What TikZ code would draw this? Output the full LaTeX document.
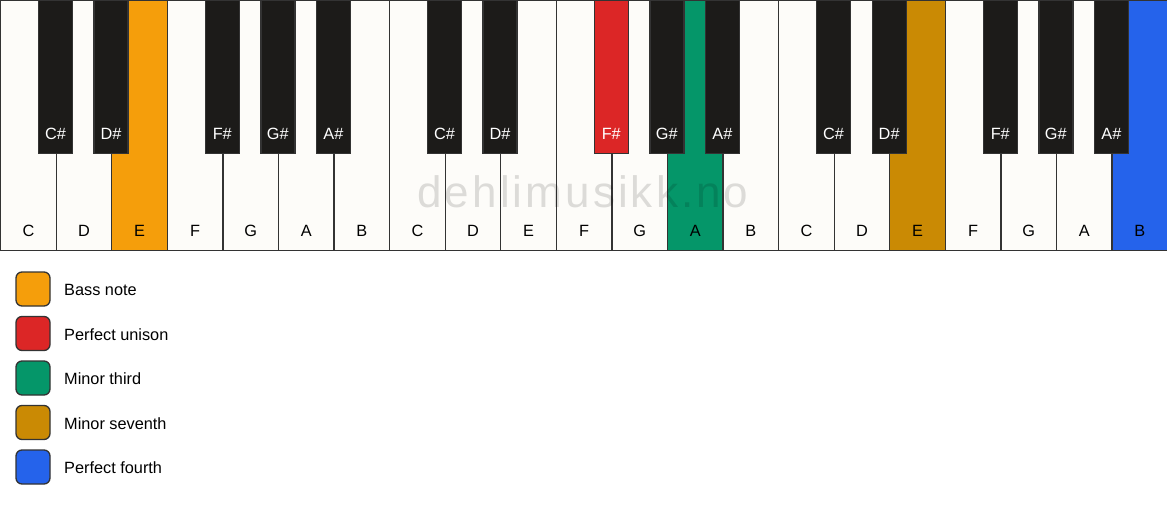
\documentclass[tikz,border=0pt]{standalone}
\usepackage{fontspec}
\setmainfont{Liberation Sans}
\newfontfamily\wmfont[LetterSpace=7]{Liberation Sans}
\usepackage{tikz}
\definecolor{ivory}{HTML}{FDFCF9}
\definecolor{ebony}{HTML}{1C1B19}
\definecolor{keyline}{HTML}{333333}
\definecolor{bass}{HTML}{F59E0B}
\definecolor{unison}{HTML}{DC2626}
\definecolor{third}{HTML}{059669}
\definecolor{seventh}{HTML}{CA8A04}
\definecolor{fourth}{HTML}{2563EB}
\tikzstyle{wk}=[shape=rectangle,draw=keyline,line width=1.3pt,fill=ivory,anchor=north west,inner sep=0pt,minimum width=55.571pt,minimum height=250pt,text height=236pt,text depth=14pt,font=\fontsize{16.3}{19}\selectfont]
\tikzstyle{bk}=[shape=rectangle,draw=keyline,line width=1.3pt,fill=ebony,text=white,anchor=north,inner sep=0pt,minimum width=34pt,minimum height=153pt,text height=139pt,text depth=14pt,font=\fontsize{16.3}{19}\selectfont]
\tikzstyle{sw}=[shape=rectangle,rounded corners=6pt,draw=keyline,line width=1.3pt,minimum size=34pt,inner sep=0pt]
\tikzstyle{lt}=[anchor=base west,inner sep=0pt,font=\fontsize{16.3}{19}\selectfont]
\tikzstyle{wmark}=[anchor=base,inner sep=0pt,text=black,text opacity=0.13,font=\wmfont\fontsize{44}{50}\selectfont]

\begin{document}
\begin{tikzpicture}[x=1pt,y=-1pt]
            \useasboundingbox (0,0) rectangle (1167,506);
            % white keys
            \node[wk] (C1) at (0, 0) {C};
            \node[wk] (D1) at (55.571, 0) {D};
            \node[wk, fill=bass] (E1) at (111.143, 0) {E};
            \node[wk] (F1) at (166.714, 0) {F};
            \node[wk] (G1) at (222.286, 0) {G};
            \node[wk] (A1) at (277.857, 0) {A};
            \node[wk] (B1) at (333.429, 0) {B};
            \node[wk] (C2) at (389, 0) {C};
            \node[wk] (D2) at (444.571, 0) {D};
            \node[wk] (E2) at (500.143, 0) {E};
            \node[wk] (F2) at (555.714, 0) {F};
            \node[wk] (G2) at (611.286, 0) {G};
            \node[wk, fill=third] (A2) at (666.857, 0) {A};
            \node[wk] (B2) at (722.429, 0) {B};
            \node[wk] (C3) at (778, 0) {C};
            \node[wk] (D3) at (833.571, 0) {D};
            \node[wk, fill=seventh] (E3) at (889.143, 0) {E};
            \node[wk] (F3) at (944.714, 0) {F};
            \node[wk] (G3) at (1000.286, 0) {G};
            \node[wk] (A3) at (1055.857, 0) {A};
            \node[wk, fill=fourth] (B3) at (1111.429, 0) {B};
            % watermark
            \node[wmark] (wm) at (583, 207) {dehlimusikk.no};
            % black keys
            \node[bk] (Cs1) at (55.571, 0) {C\#};
            \node[bk] (Ds1) at (111.143, 0) {D\#};
            \node[bk] (Fs1) at (222.286, 0) {F\#};
            \node[bk] (Gs1) at (277.857, 0) {G\#};
            \node[bk] (As1) at (333.429, 0) {A\#};
            \node[bk] (Cs2) at (444.571, 0) {C\#};
            \node[bk] (Ds2) at (500.143, 0) {D\#};
            \node[bk, fill=unison] (Fs2) at (611.286, 0) {F\#};
            \node[bk] (Gs2) at (666.857, 0) {G\#};
            \node[bk] (As2) at (722.429, 0) {A\#};
            \node[bk] (Cs3) at (833.571, 0) {C\#};
            \node[bk] (Ds3) at (889.143, 0) {D\#};
            \node[bk] (Fs3) at (1000.286, 0) {F\#};
            \node[bk] (Gs3) at (1055.857, 0) {G\#};
            \node[bk] (As3) at (1111.429, 0) {A\#};
            % legend
            \node[sw, fill=bass] (L1) at (33, 289) {};
            \node[lt] (T1) at (64, 295.5) {Bass note};
            \node[sw, fill=unison] (L2) at (33, 333.5) {};
            \node[lt] (T2) at (64, 340) {Perfect unison};
            \node[sw, fill=third] (L3) at (33, 378) {};
            \node[lt] (T3) at (64, 384.5) {Minor third};
            \node[sw, fill=seventh] (L4) at (33, 422.5) {};
            \node[lt] (T4) at (64, 429) {Minor seventh};
            \node[sw, fill=fourth] (L5) at (33, 467) {};
            \node[lt] (T5) at (64, 473.5) {Perfect fourth};
        \end{tikzpicture}
\end{document}
